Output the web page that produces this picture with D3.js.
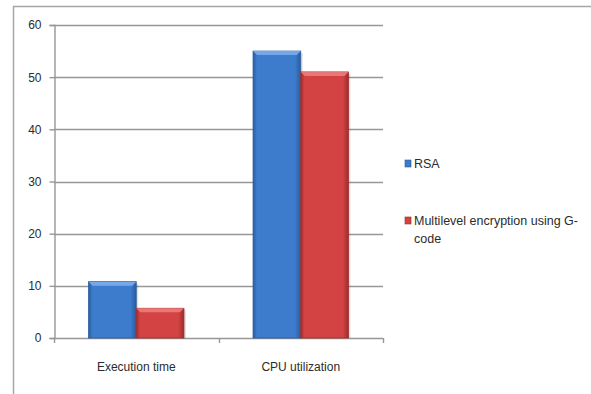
<!DOCTYPE html>
<html>
<head>
<meta charset="utf-8">
<script src="https://cdn.jsdelivr.net/npm/d3@7"></script>
<style>
  html, body { margin: 0; padding: 0; background: #fff; }
  svg { display: block; font-family: "Liberation Sans", Arial, sans-serif; }
</style>
</head>
<body>
<svg id="chart" width="591" height="394"></svg>
<script>
// Chart data
const categories = ["Execution time", "CPU utilization"];
const seriesNames = ["RSA", "Multilevel encryption using G-code"];
const rsaValues = [10.8, 55];
const multilevelValues = [5.7, 51];
const yTicks = [0, 10, 20, 30, 40, 50, 60];

const seriesValues = [rsaValues, multilevelValues];
const seriesColors = [
  { base: "#3d7bcc", edge: "#2a5c9e", light: "#7fb0ee" },
  { base: "#d44343", edge: "#9e2c2c", light: "#f07f7f" }
];

const svg = d3.select("#chart");
const defs = svg.append("defs");

// Outer frame (left and top edges)
svg.append("path")
  .attr("d", "M13.5,394 V6.5 H591")
  .attr("fill", "none")
  .attr("stroke", "#a6a6a6")
  .attr("stroke-width", 1.5);

const plot = { left: 54, right: 383, top: 25, bottom: 338 };

const y = d3.scaleLinear().domain([0, 60]).range([plot.bottom, plot.top]);
const x0 = d3.scaleBand()
  .domain(categories)
  .range([plot.left, plot.right])
  .paddingInner(0.42)
  .paddingOuter(0.21);
const x1 = d3.scaleBand()
  .domain(d3.range(seriesNames.length))
  .range([0, x0.bandwidth()]);

// Horizontal gridlines
svg.append("g")
  .selectAll("line")
  .data(yTicks.filter(d => d > 0))
  .join("line")
  .attr("x1", plot.left).attr("x2", plot.right)
  .attr("y1", d => Math.round(y(d)) + 0.5).attr("y2", d => Math.round(y(d)) + 0.5)
  .attr("stroke", "#979797").attr("stroke-width", 1.4);

// Y axis
const yAxis = svg.append("g")
  .attr("transform", `translate(${plot.left + 0.5},0)`)
  .call(d3.axisLeft(y).tickValues(yTicks).tickSize(5).tickPadding(8));
yAxis.select(".domain").attr("stroke", "#979797").attr("stroke-width", 1.4);
yAxis.selectAll(".tick line").attr("stroke", "#979797").attr("stroke-width", 1.4);
yAxis.selectAll(".tick text")
  .attr("font-size", 12).attr("fill", "#2b2b2b")
  .attr("font-family", "Liberation Sans, Arial, sans-serif");

// X axis with boundary ticks between categories
const boundaries = [plot.left, (x0(categories[0]) + x0.bandwidth() + x0(categories[1])) / 2, plot.right];
svg.append("line")
  .attr("x1", plot.left).attr("x2", plot.right)
  .attr("y1", plot.bottom + 0.5).attr("y2", plot.bottom + 0.5)
  .attr("stroke", "#979797").attr("stroke-width", 1.4);
svg.append("g").selectAll("line")
  .data(boundaries)
  .join("line")
  .attr("x1", d => Math.round(d) + 0.5).attr("x2", d => Math.round(d) + 0.5)
  .attr("y1", plot.bottom).attr("y2", plot.bottom + 5)
  .attr("stroke", "#979797").attr("stroke-width", 1.4);

svg.append("g").selectAll("text")
  .data(categories)
  .join("text")
  .attr("x", d => x0(d) + x0.bandwidth() / 2)
  .attr("y", 371)
  .attr("text-anchor", "middle")
  .attr("font-size", 12)
  .attr("fill", "#2b2b2b")
  .text(d => d);

// Gradients for bar faces
seriesColors.forEach((c, i) => {
  const g = defs.append("linearGradient")
    .attr("id", "face" + i).attr("x1", "0").attr("x2", "1").attr("y1", "0").attr("y2", "0");
  g.append("stop").attr("offset", "0%").attr("stop-color", c.edge);
  g.append("stop").attr("offset", "8%").attr("stop-color", c.base);
  g.append("stop").attr("offset", "88%").attr("stop-color", c.base);
  g.append("stop").attr("offset", "100%").attr("stop-color", c.edge);
});

// Bars
const bars = [];
categories.forEach((cat, ci) => {
  seriesValues.forEach((vals, si) => {
    bars.push({ cat, si, value: vals[ci] });
  });
});

const barG = svg.append("g");
const bx = d => x0(d.cat) + x1(d.si);
const bw = x1.bandwidth();

// soft shadow
barG.selectAll("rect.shadow")
  .data(bars)
  .join("rect")
  .attr("class", "shadow")
  .attr("x", d => bx(d) + 2)
  .attr("y", d => y(d.value) + 2)
  .attr("width", bw)
  .attr("height", d => y(0) - y(d.value) - 2)
  .attr("fill", "#000").attr("opacity", 0.12);

barG.selectAll("rect.bar")
  .data(bars)
  .join("rect")
  .attr("class", "bar")
  .attr("x", d => bx(d))
  .attr("y", d => y(d.value))
  .attr("width", bw)
  .attr("height", d => y(0) - y(d.value))
  .attr("fill", d => `url(#face${d.si})`)
  .attr("stroke", d => seriesColors[d.si].edge)
  .attr("stroke-width", 0.8);

// top bevel
barG.selectAll("path.bevel")
  .data(bars)
  .join("path")
  .attr("class", "bevel")
  .attr("d", d => {
    const x = bx(d), t = y(d.value), b = 4;
    return `M${x},${t} H${x + bw} L${x + bw - b},${t + b} H${x + b} Z`;
  })
  .attr("fill", d => seriesColors[d.si].light)
  .attr("opacity", 0.85);

// Legend
const legend = svg.append("g");
const legendRows = [
  { lines: ["RSA"], y: 168 },
  { lines: ["Multilevel encryption using G-", "code"], y: 225 }
];
legendRows.forEach((row, i) => {
  legend.append("rect")
    .attr("x", 405).attr("y", row.y - 8)
    .attr("width", 6).attr("height", 7)
    .attr("fill", `url(#face${i})`)
    .attr("stroke", seriesColors[i].edge).attr("stroke-width", 0.6);
  const t = legend.append("text")
    .attr("x", 414).attr("y", row.y)
    .attr("font-size", 12.5).attr("fill", "#2b2b2b");
  row.lines.forEach((ln, k) => {
    t.append("tspan").attr("x", 414).attr("dy", k === 0 ? 0 : 18).text(ln);
  });
});
</script>
</body>
</html>
